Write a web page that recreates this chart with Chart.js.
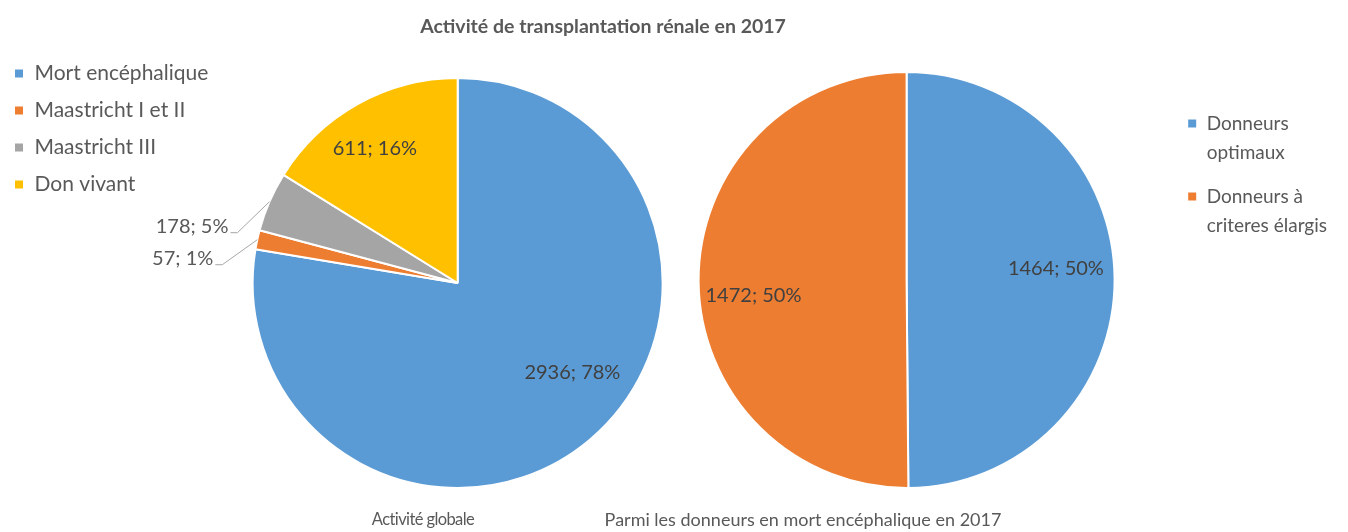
<!DOCTYPE html>
<html>
<head>
<meta charset="utf-8">
<script src="https://cdn.jsdelivr.net/npm/chart.js@4/dist/chart.umd.min.js"></script>
<style>
  body { margin: 0; width: 1348px; height: 532px; overflow: hidden; background: #fff; position: relative; font-family: Lato, sans-serif; color: #595959; }
  .box { position: absolute; top: 0; height: 532px; }
  #title { position: absolute; left: 0; width: 1206px; top: 14px; text-align: center; font-weight: bold; font-size: 19.5px; z-index: 2; }
  .sub { position: absolute; top: 508px; text-align: center; font-size: 18px; z-index: 2; }
</style>
</head>
<body>
<div id="title">Activité de transplantation rénale en 2017</div>
<div class="box" style="left:-2px;width:699px"><canvas id="globalChart" width="699" height="532"></canvas></div>
<div class="box" style="left:640px;width:697px"><canvas id="meChart" width="697" height="532"></canvas></div>
<div class="sub" style="left:323px;width:200px;font-size:16.5px;top:509px;letter-spacing:-0.6px">Activité globale</div>
<div class="sub" style="left:503px;width:600px">Parmi les donneurs en mort encéphalique en 2017</div>
<script>
// Activite globale
var globalLabels = ['Mort encéphalique', 'Maastricht I et II', 'Maastricht III', 'Don vivant'];
var globalValues = [2936, 57, 178, 611];
var globalPct = [78, 1, 5, 16];

// Parmi les donneurs en mort encephalique
var meLabels = [['Donneurs', 'optimaux'], ['Donneurs à', 'criteres élargis']];
var meValues = [1464, 1472];
var mePct = [50, 50];

var blue = '#5B9BD5', orange = '#ED7D31', grey = '#A5A5A5', yellow = '#FFC000';

// draws "value; pct%" on each slice, with a leader line for the small ones
var sliceLabels = {
    id: 'sliceLabels',
    afterDatasetsDraw: function(chart, args, opts) {
        var ctx = chart.ctx;
        var meta = chart.getDatasetMeta(0);
        var values = chart.data.datasets[0].data;
        ctx.save();
        ctx.font = opts.font;
        ctx.fillStyle = opts.color;
        meta.data.forEach(function(arc, i) {
            var p = opts.place[i];
            var q = arc.getProps(['x', 'y', 'startAngle', 'endAngle', 'outerRadius'], true);
            var text = values[i] + '; ' + opts.pct[i] + '%';
            var a = q.startAngle + (q.endAngle - q.startAngle) * p.at;
            if (!p.out) {
                ctx.textAlign = 'center';
                ctx.textBaseline = 'middle';
                ctx.fillText(text, q.x + Math.cos(a) * q.outerRadius * p.r, q.y + Math.sin(a) * q.outerRadius * p.r);
            } else {
                var ex = q.x + Math.cos(a) * q.outerRadius, ey = q.y + Math.sin(a) * q.outerRadius;
                var lx = ex + p.dx, ly = ey + p.dy;
                ctx.strokeStyle = '#A6A6A6';
                ctx.lineWidth = 1;
                ctx.beginPath();
                ctx.moveTo(ex, ey);
                ctx.lineTo(lx, ly);
                ctx.lineTo(lx - 7, ly);
                ctx.stroke();
                ctx.textAlign = 'right';
                ctx.textBaseline = 'alphabetic';
                ctx.fillStyle = '#595959';
                ctx.fillText(text, lx - 9, ly);
                ctx.fillStyle = opts.color;
            }
        });
        ctx.restore();
    }
};

function createGlobalChart() {
    var ctx = document.getElementById('globalChart').getContext('2d');
    return new Chart(ctx, {
        type: 'pie',
        data: {
            labels: globalLabels,
            datasets: [{
                data: globalValues,
                backgroundColor: [blue, orange, grey, yellow],
                borderColor: '#fff',
                borderWidth: 2,
                radius: 205,
                clip: false
            }]
        },
        options: {
            responsive: false,
            animation: false,
            layout: { padding: { top: 47, bottom: 13 } },
            plugins: {
                legend: {
                    position: 'left',
                    align: 'start',
                    labels: { boxWidth: 10, boxHeight: 10, padding: 16, color: '#595959', font: { family: 'Lato', size: 21 } }
                },
                tooltip: { enabled: false },
                sliceLabels: {
                    font: '20px Lato',
                    color: '#404040',
                    pct: globalPct,
                    place: [
                        { at: 0.458, r: 0.71 },
                        { at: 0.5, out: true, dx: -35, dy: 25 },
                        { at: 0.5, out: true, dx: -32, dy: 31 },
                        { at: 0.456, r: 0.77 }
                    ]
                }
            }
        },
        plugins: [sliceLabels]
    });
}

function createMeChart() {
    var ctx = document.getElementById('meChart').getContext('2d');
    return new Chart(ctx, {
        type: 'pie',
        data: {
            labels: meLabels,
            datasets: [{
                data: meValues,
                backgroundColor: [blue, orange],
                borderColor: '#fff',
                borderWidth: 2,
                radius: 208,
                clip: false
            }]
        },
        options: {
            responsive: false,
            animation: false,
            layout: { padding: { top: 100, bottom: 72 } },
            plugins: {
                legend: {
                    position: 'right',
                    align: 'start',
                    labels: { boxWidth: 10, boxHeight: 10, padding: 14, color: '#595959', font: { family: 'Lato', size: 19, lineHeight: 1.55 } }
                },
                tooltip: { enabled: false },
                sliceLabels: {
                    font: '20px Lato',
                    color: '#404040',
                    pct: mePct,
                    place: [
                        { at: 0.476, r: 0.72 },
                        { at: 0.469, r: 0.74 }
                    ]
                }
            }
        },
        plugins: [sliceLabels]
    });
}

createGlobalChart();
createMeChart();
</script>
</body>
</html>
